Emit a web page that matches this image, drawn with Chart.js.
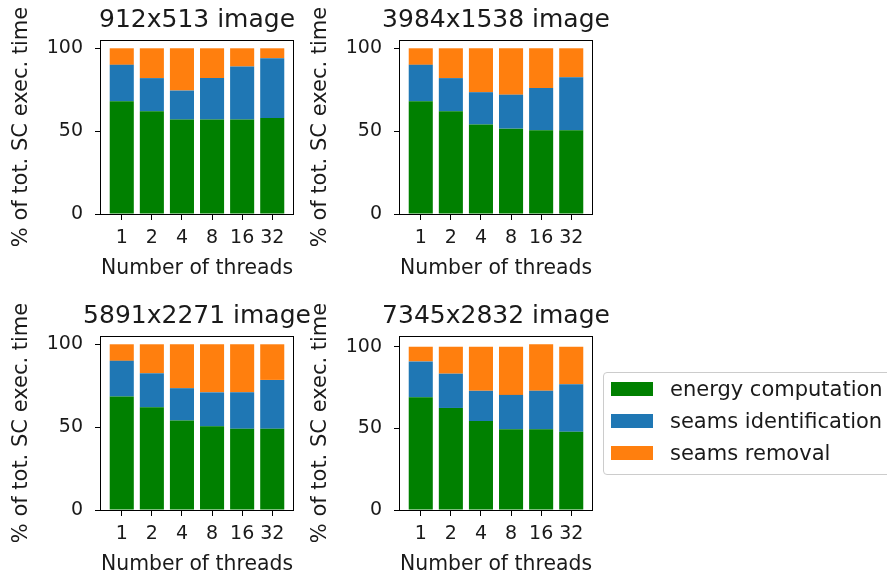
<!DOCTYPE html>
<html>
<head>
<meta charset="utf-8">
<script src="https://cdn.jsdelivr.net/npm/chart.js@4.4.1/dist/chart.umd.min.js"></script>
<style>
  html, body { margin: 0; padding: 0; background: #fff; overflow: hidden; }
  body { width: 887px; height: 579px; position: relative; font-family: "DejaVu Sans", sans-serif; }
  canvas { position: absolute; }
  #legend {
    position: absolute; left: 603px; top: 372px; width: 300px; height: 103px;
    border: 1px solid #cccccc; border-radius: 4px; background: rgba(255,255,255,0.8);
    box-sizing: border-box;
  }
  .item { position: absolute; left: 7px; height: 22px; }
  .swatch { position: absolute; left: 0; top: 4px; width: 42px; height: 14px; }
  .label { position: absolute; left: 59px; top: -1px; font-size: 21px; color: #1a1a1a; white-space: nowrap; }
</style>
</head>
<body>
<canvas id="c1" width="330" height="296" style="left:0;top:0"></canvas>
<canvas id="c2" width="330" height="296" style="left:299px;top:0"></canvas>
<canvas id="c3" width="330" height="296" style="left:0;top:296px"></canvas>
<canvas id="c4" width="330" height="296" style="left:299px;top:296px"></canvas>
<div id="legend"></div>
<script>
const threads = ["1", "2", "4", "8", "16", "32"];
const seriesNames = ["energy computation", "seams identification", "seams removal"];
const seriesColors = ["#008000", "#1f77b4", "#ff7f0e"];
const yTicks = [0, 50, 100];

// 912x513
const energy912 = [68, 62, 57, 57, 57, 58];
const ident912 = [22, 20, 17.5, 25, 32, 36];
const removal912 = [10, 18, 25.5, 18, 11, 6];
// 3984x1538
const energy3984 = [68, 62, 54, 51.5, 50.5, 50.5];
const ident3984 = [22, 20, 19.5, 20.5, 25.5, 32];
const removal3984 = [10, 18, 26.5, 28, 24, 17.5];
// 5891x2271
const energy5891 = [68.5, 62, 54, 50.5, 49, 49];
const ident5891 = [21.5, 20.5, 19.5, 20.5, 22, 29.5];
const removal5891 = [10, 17.5, 26.5, 29, 29, 21.5];
// 7345x2832
const energy7345 = [69, 62.5, 54.5, 49.5, 49.5, 48];
const ident7345 = [22, 21, 18.5, 21, 23.5, 29];
const removal7345 = [9, 16.5, 27, 29.5, 28.5, 23];

const FONT = "DejaVu Sans";
const TXT = "#1a1a1a";

// matplotlib style: full black frame around the axes
const framePlugin = {
  id: "frame",
  afterDatasetsDraw(chart) {
    const { ctx, chartArea: a } = chart;
    ctx.save();
    ctx.strokeStyle = "#000";
    ctx.lineWidth = 1;
    ctx.strokeRect(Math.round(a.left) - 0.5, Math.round(a.top) + 0.5,
      Math.round(a.right - a.left) + 1, Math.round(a.bottom - a.top));
    ctx.restore();
  }
};

// title centred over the axes, allowed to run wider than them
const plotTitle = {
  id: "plotTitle",
  afterDraw(chart, args, opts) {
    const { ctx, chartArea: a } = chart;
    ctx.save();
    ctx.font = "25px \"" + FONT + "\"";
    ctx.fillStyle = TXT;
    ctx.textAlign = "center";
    ctx.textBaseline = "alphabetic";
    ctx.fillText(opts.text, (a.left + a.right) / 2, a.top - 13);
    ctx.restore();
  }
};

function makeChart(id, title, energy, ident, removal) {
  const series = [energy, ident, removal];
  const totals = energy.map((v, i) => v + ident[i] + removal[i]);
  const yMax = Math.max(...totals) * 1.05;

  new Chart(document.getElementById(id), {
    type: "bar",
    data: {
      datasets: series.map((vals, s) => ({
        label: seriesNames[s],
        data: vals.map((v, i) => ({ x: i, y: v })),
        backgroundColor: seriesColors[s],
        borderWidth: 0,
        barPercentage: 0.8,
        categoryPercentage: 1,
      })),
    },
    options: {
      responsive: false,
      animation: false,
      devicePixelRatio: 1,
      layout: { padding: { left: 0, right: 37, top: 40, bottom: 0 } },
      plugins: {
        legend: { display: false },
        tooltip: { enabled: false },
        plotTitle: { text: title },
      },
      scales: {
        x: {
          type: "linear",
          stacked: true,
          offset: false,
          min: -0.69,
          max: 5.69,
          afterBuildTicks: (s) => { s.ticks = threads.map((t, i) => ({ value: i })); },
          afterFit: (s) => { s.height = 82; },
          grid: { offset: false, drawOnChartArea: false, drawTicks: true, tickLength: 6, color: "#000", lineWidth: 1 },
          border: { display: false },
          ticks: {
            autoSkip: false, maxRotation: 0, padding: 7, color: TXT,
            font: { family: FONT, size: 19 },
            callback: (v) => threads[v],
          },
          title: {
            display: true, text: "Number of threads", color: TXT,
            font: { family: FONT, size: 21 }, padding: { top: 0, bottom: 15 },
          },
        },
        y: {
          stacked: true,
          min: 0,
          max: yMax,
          afterBuildTicks: (s) => { s.ticks = yTicks.map((v) => ({ value: v })); },
          afterFit: (s) => { s.width = 101; },
          grid: { drawOnChartArea: false, drawTicks: true, tickLength: 6, color: "#000", lineWidth: 1 },
          border: { display: false },
          ticks: { padding: 12, color: TXT, font: { family: FONT, size: 19 } },
          title: {
            display: true, text: "% of tot. SC exec. time", color: TXT,
            font: { family: FONT, size: 21 }, padding: { top: 9, bottom: 0 },
          },
        },
      },
    },
    plugins: [framePlugin, plotTitle],
  });
}

makeChart("c1", "912x513 image", energy912, ident912, removal912);
makeChart("c2", "3984x1538 image", energy3984, ident3984, removal3984);
makeChart("c3", "5891x2271 image", energy5891, ident5891, removal5891);
makeChart("c4", "7345x2832 image", energy7345, ident7345, removal7345);

// legend box to the right of the last plot
const legend = document.getElementById("legend");
seriesNames.forEach((name, s) => {
  const item = document.createElement("div");
  item.className = "item";
  item.style.top = (5 + s * 32) + "px";
  item.innerHTML = '<span class="swatch" style="background:' + seriesColors[s] + '"></span>' +
    '<span class="label">' + name + '</span>';
  legend.appendChild(item);
});
</script>
</body>
</html>
